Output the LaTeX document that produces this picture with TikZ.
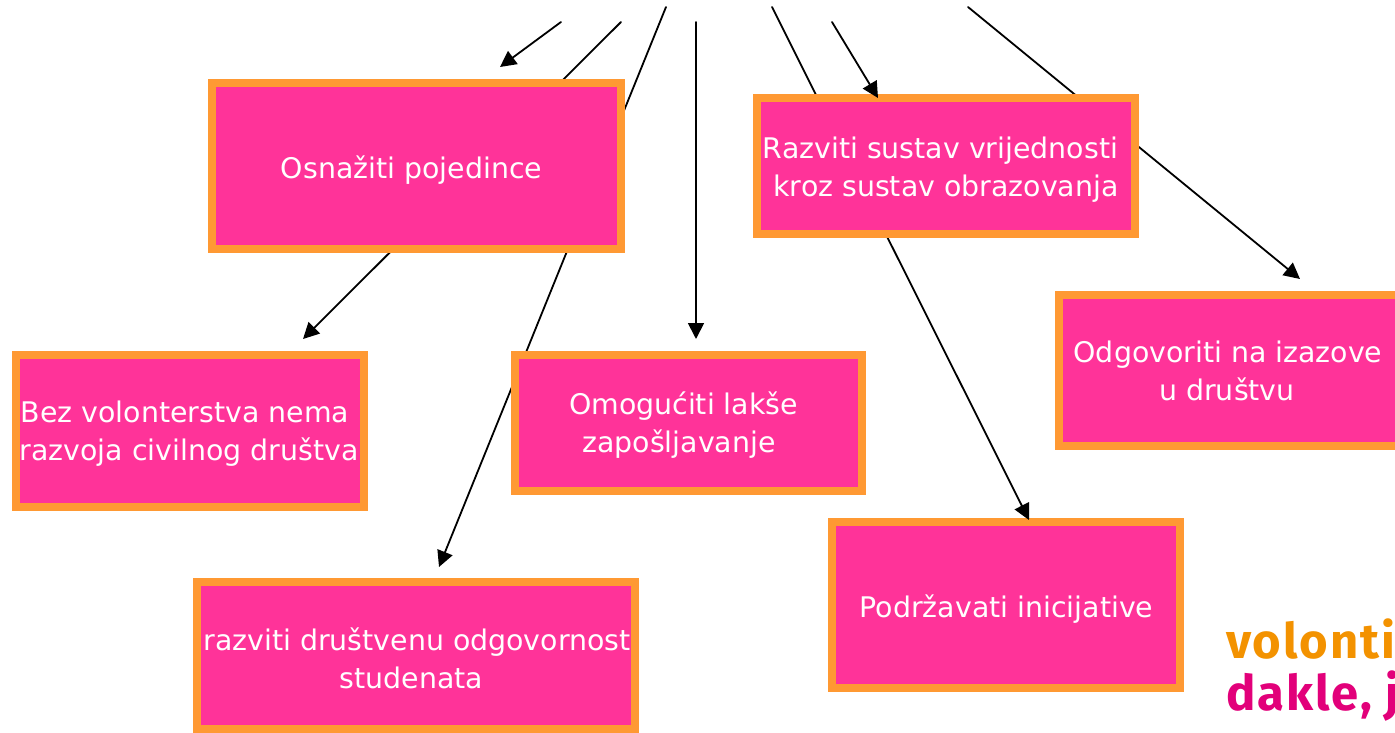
\documentclass[tikz,border=0pt]{standalone}
\usepackage{fontspec}
\setmainfont{DejaVu Sans}
\newfontfamily\logofont[LetterSpace=4]{Fira Sans}
\definecolor{boxfill}{HTML}{FF3399}
\definecolor{boxedge}{HTML}{FF9933}
\definecolor{logoorange}{HTML}{F39200}
\definecolor{logopink}{HTML}{E2007A}
\usetikzlibrary{arrows.meta}
\tikzset{
  x=1pt,y=-1pt,
  goalbox/.style={draw=boxedge,fill=boxfill,line width=8pt,rectangle,inner sep=0pt,text=white,font=\fontsize{28.4}{38}\selectfont},
  conn/.style={draw=black,line width=1.8pt,line cap=round},
  connarrow/.style={conn,-{Triangle[length=16pt,width=16pt]}},
  logotext/.style={anchor=base west,inner sep=0pt,font=\logofont\bfseries\fontsize{49}{49}\selectfont}
}
% name, x0, y0, x1, y1, downward text shift, text lines
\newcommand{\goal}[7]{\node[goalbox,minimum width=#4-#2-8,minimum height=#5-#3-8] (#1) at ({(#2+#4)/2},{(#3+#5)/2}) {\makebox[0pt]{\raisebox{0pt}[\dimexpr\height+#6pt*2\relax][\depth]{\begin{tabular}{@{}c@{}}#7\end{tabular}}}};}
\begin{document}
\begin{tikzpicture}
\useasboundingbox (0,0) rectangle (1395,733);
\clip (0,0) rectangle (1395,733);
\fill[white] (0,0) rectangle (1395,733);
\coordinate (s1) at (561,22); \coordinate (e1) at (500,67);
\coordinate (s2) at (621,22); \coordinate (e2) at (303,339);
\coordinate (s3) at (666,7);  \coordinate (e3) at (439,567);
\coordinate (s4) at (696,22); \coordinate (e4) at (696,339);
\coordinate (s5) at (772,7);  \coordinate (e5) at (1029,520);
\coordinate (s6) at (832,22); \coordinate (e6) at (878,98);
\coordinate (s7) at (968,7);  \coordinate (e7) at (1300,279);
\goal{podrzavati}{828}{518}{1184}{692}{4.5}{\hspace*{1pt}Podržavati inicijative}
\draw[connarrow] (s1) -- (e1);
\draw[connarrow] (s2) -- (e2);
\draw[connarrow] (s3) -- (e3);
\draw[connarrow] (s4) -- (e4);
\draw[connarrow] (s5) -- (e5);
\draw[connarrow] (s7) -- (e7);
\goal{osnaziti}{208}{79}{625}{253}{5}{Osnažiti pojedince\hspace*{10pt}}
\goal{bez}{12}{351}{368}{511}{3}{Bez volonterstva nema\hspace*{10pt}\\razvoja civilnog društva\hspace*{2pt}}
\goal{omoguciti}{511}{351}{866}{495}{3}{Omogućiti lakše\hspace*{10pt}\\zapošljavanje\hspace*{19pt}}
\goal{odgovornost}{193}{578}{639}{733}{6}{\hspace*{2pt}razviti društvenu odgovornost\\studenata\hspace*{9pt}}
\goal{sustav}{753}{94}{1139}{238}{4}{Razviti sustav vrijednosti\hspace*{11pt}\\kroz sustav obrazovanja}
\goal{izazove}{1055}{291}{1405}{450}{3.5}{Odgovoriti na izazove\hspace*{4pt}\\u društvu\hspace*{6pt}}
\draw[connarrow] (s6) -- (e6);
\node[logotext,text=logoorange] (logoa) at (1226,658) {volontir};
\node[logotext,text=logopink] (logob) at (1226,710) {dakle, j};
\end{tikzpicture}
\end{document}
